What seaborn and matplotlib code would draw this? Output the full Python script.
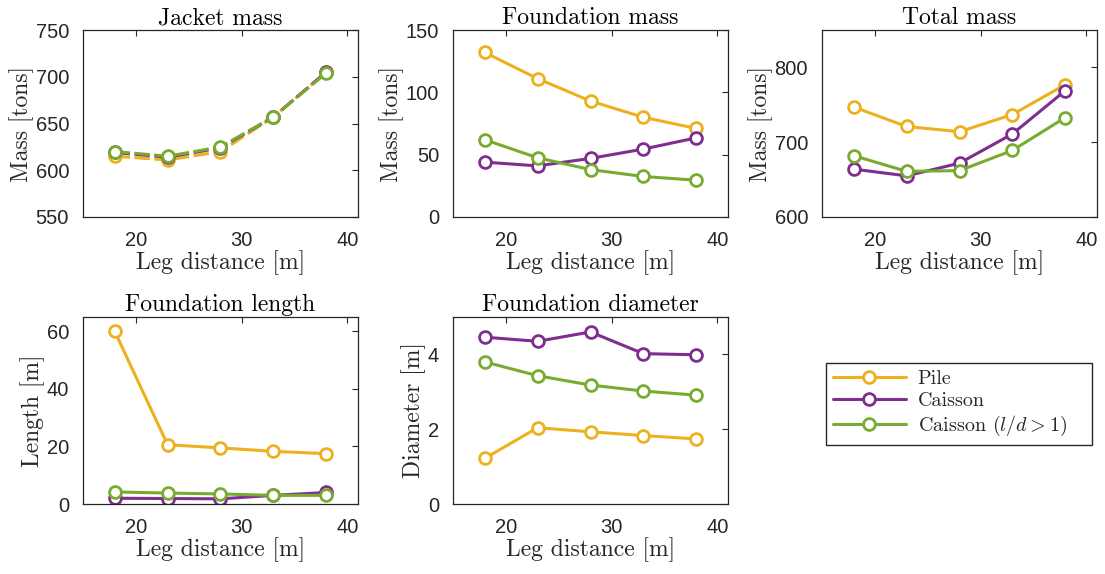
import pandas as pd
import matplotlib.pyplot as plt
import seaborn as sns

# leg distance [m]
leg_distance = [18, 23, 28, 33, 38]
series_names = ['Pile', 'Caisson', 'Caisson ($l/d > 1$)']
series_colors = ['#EDB120', '#7E2F8E', '#77AC30']

# jacket mass [tons]
jacket_pile = [615, 611, 620, 657, 705]
jacket_caisson = [619, 614, 624, 657, 705]
jacket_caisson_ld = [620, 615, 625, 657, 704]

# foundation mass [tons]
fmass_pile = [132, 111, 93, 80, 71]
fmass_caisson = [44, 41, 47, 54.5, 63.5]
fmass_caisson_ld = [62, 47.5, 38, 32.5, 29.5]

# total mass [tons]
total_pile = [747, 721, 714, 737, 777]
total_caisson = [664, 655, 672, 711, 769]
total_caisson_ld = [682, 661, 662, 689, 733]

# foundation length [m]
flen_pile = [60, 20.6, 19.5, 18.3, 17.5]
flen_caisson = [2.0, 1.9, 1.8, 3.0, 4.0]
flen_caisson_ld = [4.2, 3.8, 3.5, 3.0, 3.0]

# foundation diameter [m]
fdia_pile = [1.22, 2.04, 1.93, 1.83, 1.74]
fdia_caisson = [4.46, 4.35, 4.6, 4.02, 3.99]
fdia_caisson_ld = [3.8, 3.43, 3.18, 3.02, 2.91]

panels = [
    ('Jacket mass', 'Mass [tons]', [jacket_pile, jacket_caisson, jacket_caisson_ld], (550, 750), [550, 600, 650, 700, 750]),
    ('Foundation mass', 'Mass [tons]', [fmass_pile, fmass_caisson, fmass_caisson_ld], (0, 150), [0, 50, 100, 150]),
    ('Total mass', 'Mass [tons]', [total_pile, total_caisson, total_caisson_ld], (600, 850), [600, 700, 800]),
    ('Foundation length', 'Length [m]', [flen_pile, flen_caisson, flen_caisson_ld], (0, 65), [0, 20, 40, 60]),
    ('Foundation diameter', 'Diameter [m]', [fdia_pile, fdia_caisson, fdia_caisson_ld], (0, 5), [0, 2, 4]),
]

sns.set_theme(style="white")
plt.rcParams['font.family'] = ['Liberation Sans', 'DejaVu Sans']
plt.rcParams['mathtext.fontset'] = 'cm'

serif = 'cmr10'
edge = '#262626'

fig = plt.figure(figsize=(11.05, 5.74), dpi=100)
W, H = 1105, 574
boxes = [(83, 30, 358, 217), (453, 30, 728, 217), (822, 30, 1097, 217),
         (83, 317, 358, 504), (453, 317, 728, 504)]

for (title, ylabel, data, ylim, yticks), (l, t, r, b) in zip(panels, boxes):
    ax = fig.add_axes([l / W, 1 - b / H, (r - l) / W, (b - t) / H])
    for i, (name, color, vals) in enumerate(zip(series_names, series_colors, data)):
        df = pd.DataFrame({'x': leg_distance, 'y': vals})
        ls = (0, (5, 1.5)) if title == 'Jacket mass' else '-'
        sns.lineplot(data=df, x='x', y='y', ax=ax, color=color, linewidth=2.2,
                     linestyle=ls, marker='o', markersize=8.5, markerfacecolor='white',
                     markeredgecolor=color, markeredgewidth=2.0, label=name)
    ax.set_xlim(15, 41)
    ax.set_ylim(*ylim)
    ax.set_xticks([20, 30, 40])
    ax.set_yticks(yticks)
    ax.tick_params(direction='in', length=4, width=0.8, colors=edge, labelsize=14.5,
                   top=True, right=True, labelcolor=edge, pad=10)
    for s in ax.spines.values():
        s.set_color(edge)
        s.set_linewidth(0.9)
    ax.set_title(title, fontfamily=serif, fontsize=17, color='black', pad=4)
    ax.set_xlabel('Leg distance [m]', fontfamily=serif, fontsize=17, color=edge, labelpad=0)
    ax.set_ylabel(ylabel, fontfamily=serif, fontsize=17, color=edge, labelpad=1)
    handles, labels = ax.get_legend_handles_labels()
    ax.get_legend().remove()

leg = fig.legend(handles, labels, loc='upper left',
                 bbox_to_anchor=(826 / W, 1 - 441 / H, 266 / W, 78 / H), mode='expand',
                 borderaxespad=0, frameon=True, fancybox=False, handlelength=3.6,
                 handletextpad=0.6, prop={'family': serif, 'size': 14.5}, borderpad=0.35,
                 labelspacing=0.2)
leg.get_frame().set_edgecolor(edge)
leg.get_frame().set_linewidth(1.0)
leg.get_frame().set_alpha(1)

fig.savefig('out.png', dpi=100)
